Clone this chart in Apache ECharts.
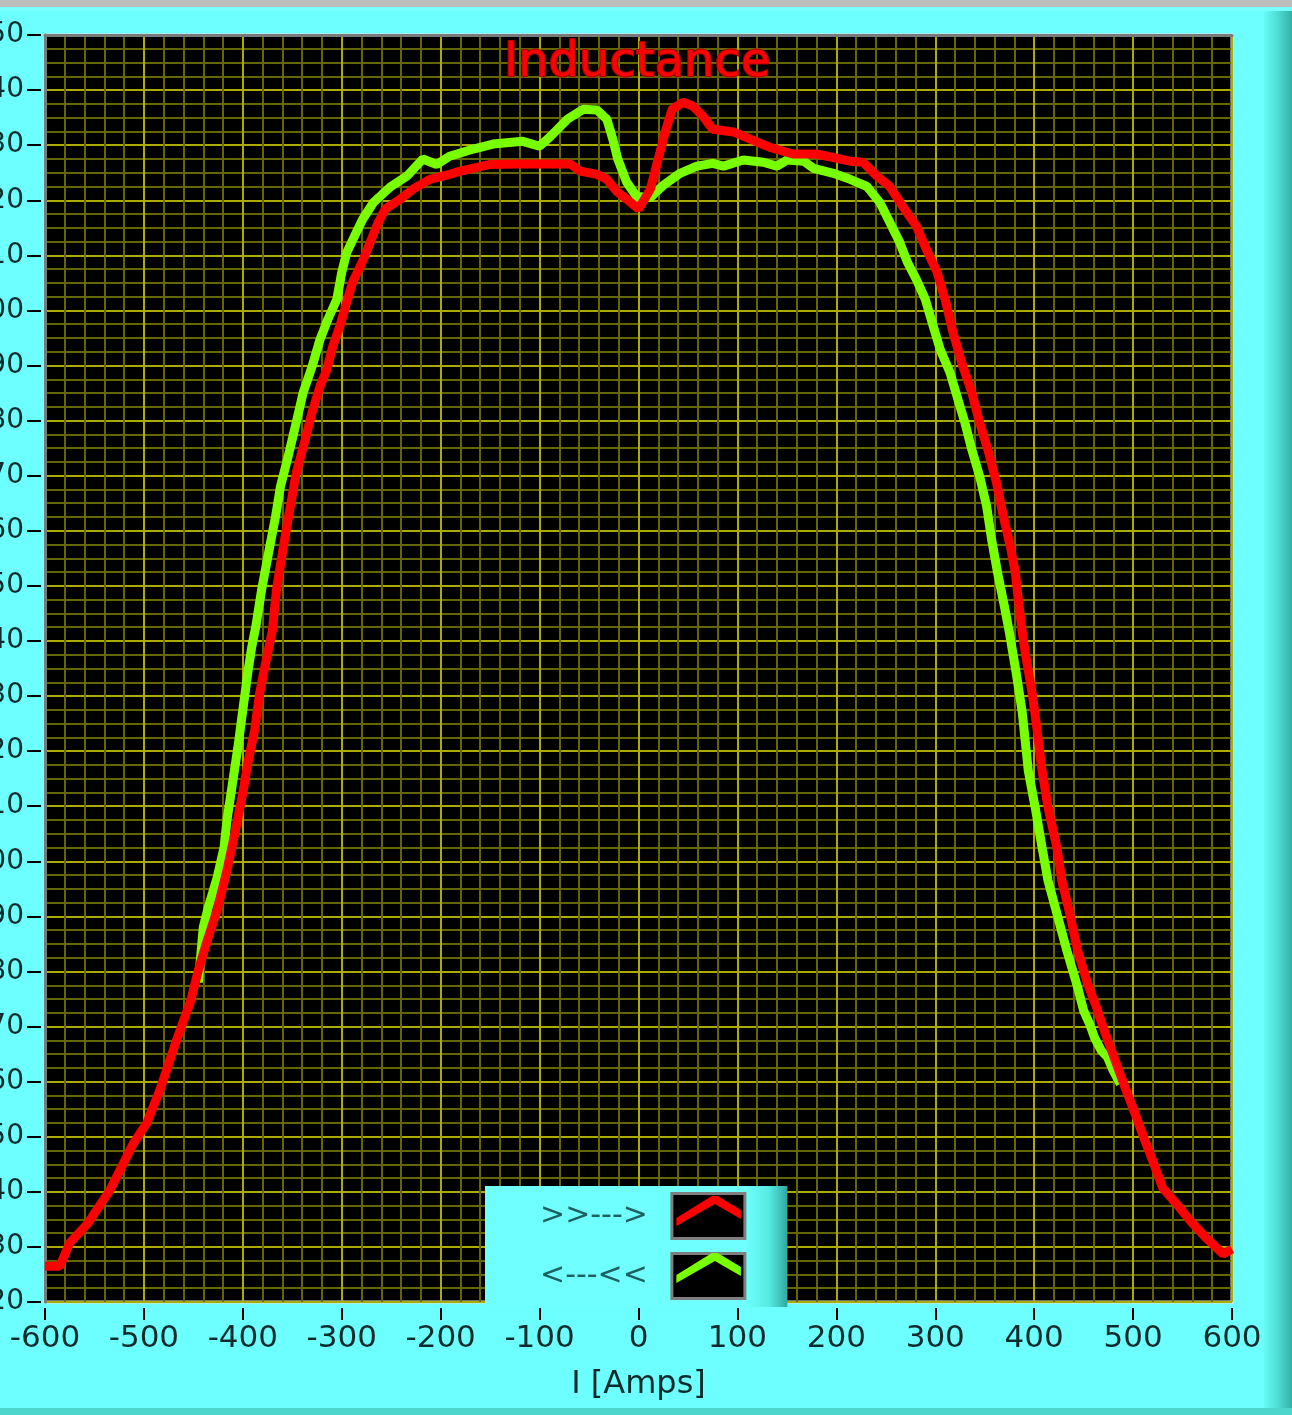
<!DOCTYPE html>
<html>
<head>
<meta charset="utf-8">
<title>Inductance</title>
<script src="https://cdn.jsdelivr.net/npm/echarts@6/dist/echarts.min.js"></script>
<style>
  html, body { margin: 0; padding: 0; background: #6dffff; }
  #main { width: 1292px; height: 1415px; }
</style>
</head>
<body>
<div id="main"></div>
<script>
// forward sweep (>>--->)
const fwdCurrent = [-600, -585, -575, -557, -534, -511, -497, -484, -467, -453, -445, -436, -426, -416, -408, -400, -395, -388, -383, -377, -370, -366, -359, -352, -346, -337, -330, -322, -315, -309, -302, -295, -289, -278, -270, -263, -256, -241, -228, -211, -191, -180, -150, -123, -97, -69, -59, -42, -32, -22, -12, 0, 12, 20, 27, 34, 45, 55, 65, 75, 96, 113, 133, 156, 180, 214, 227, 241, 254, 267, 281, 291, 302, 310, 318, 328, 337, 345, 354, 362, 369, 376, 381, 384, 388, 391, 398, 403, 408, 414, 423, 428, 436, 444, 454, 463, 472, 482, 492, 502, 512, 521, 530, 544, 558, 574, 591, 600];
const fwdInductance = [126.5, 126.5, 130.7, 134.2, 140.4, 148.7, 152.5, 158.4, 167.5, 174.5, 180.2, 185.6, 191.1, 198.4, 205.1, 212.4, 217.8, 223.8, 230.5, 236, 242, 249.3, 257.1, 264.4, 270.5, 276.5, 281.5, 286.2, 289.3, 293.5, 297.1, 301.5, 305.1, 309.3, 312.9, 316, 318.4, 320.2, 322, 323.8, 324.7, 325.3, 326.5, 326.6, 326.6, 326.6, 325.3, 324.7, 323.8, 321.6, 320.2, 318.4, 322, 327.5, 332.4, 336.5, 337.8, 337.1, 335.3, 332.9, 332.4, 331.1, 329.6, 328.4, 328.4, 327.1, 326.9, 324.4, 322.5, 318.9, 315.3, 311.1, 306.9, 302, 296, 289.8, 285.1, 279.6, 274.2, 268.7, 262.5, 257.1, 252.4, 247.5, 241.5, 237.8, 230.5, 223.8, 216.5, 209.8, 202.5, 196.5, 190.5, 183.8, 177.8, 173.5, 168.7, 163.8, 158.9, 154.2, 149.3, 145.1, 140.7, 137.8, 134.7, 131.6, 128.7, 129.6];

// reverse sweep (<---<<)
const revCurrent = [-445, -440, -435, -426, -419, -416, -410, -405, -400, -395, -391, -387, -381, -374, -367, -362, -355, -347, -339, -330, -322, -314, -305, -300, -295, -287, -279, -268, -251, -234, -218, -204, -191, -167, -147, -117, -100, -89, -72, -56, -42, -32, -26, -21, -12, -2, 12, 25, 42, 59, 75, 86, 106, 126, 140, 150, 167, 177, 197, 214, 231, 244, 254, 264, 272, 281, 290, 298, 305, 315, 323, 330, 337, 345, 352, 357, 363, 370, 375, 382, 388, 394, 401, 408, 414, 423, 433, 444, 450, 456, 461, 468, 474, 480, 487];
const revInductance = [178, 188, 191.6, 197, 202.5, 207.5, 214.7, 220.7, 227.5, 234.2, 238.9, 242.5, 249.3, 256, 262.5, 268, 272.9, 278.9, 285.1, 289.8, 294.7, 298.4, 302, 306.9, 310.5, 313.5, 316.5, 319.6, 322.4, 324.4, 327.5, 326.5, 328, 329.3, 330.2, 330.7, 329.8, 331.6, 334.7, 336.5, 336.4, 334.7, 331.1, 327.5, 323.3, 320.7, 320.5, 322.7, 324.9, 326.2, 326.7, 326.2, 327.3, 326.9, 326.2, 327.3, 327.1, 325.8, 324.9, 323.8, 322.5, 319.6, 316, 312.4, 308.7, 305.6, 302, 297.1, 292.9, 288.7, 283.8, 279.6, 274.7, 269.8, 264.4, 258.4, 252.4, 246.2, 241.5, 234, 227, 216.5, 209.8, 202.5, 196.5, 190.5, 183.8, 177.1, 172.9, 170.5, 168, 165.6, 164.5, 162, 159.6];

const seriesNames = [">>--->", "<---<<"];
const seriesColors = ["#ff0000", "#78ff00"];

const xRange = [-600, 600, 100];
const yRange = [120, 350, 10];

function pairs(xs, ys) {
  return xs.map((x, i) => [x, ys[i]]);
}

const labelFont = "DejaVu Sans";
const majorGrid = { color: "#acac00", width: 2 };
const minorGrid = { color: "#666600", width: 2 };

// chevron drawn inside the black legend boxes (corner moves keep the box size)
const chevron = "path://M0,0 Z M73,45 Z M4.5,34 L4.5,26 L40,4 L46,4 L69,18 L69,27 L43,12 Z";

const legendBase = {
  data: seriesNames,
  orient: "vertical",
  left: 485,
  top: 1186,
  align: "right",
  itemWidth: 73,
  itemHeight: 45,
  itemGap: 12,
  padding: [6, 41, 7, 55],
  selectedMode: false,
};

var chart = echarts.init(document.getElementById("main"));
var option = {
  animation: false,
  backgroundColor: "#6dffff",
  title: {
    text: "Inductance",
    left: 499,
    top: 35,
    textStyle: {
      color: "#ff0000",
      fontSize: 48,
      fontWeight: "normal",
      fontFamily: labelFont,
      textBorderColor: "#b00000",
      textBorderWidth: 2.2,
    },
  },
  grid: {
    left: 45,
    right: 60,
    top: 35,
    bottom: 113,
    containLabel: false,
    outerBoundsMode: "none",
    show: true,
    backgroundColor: "#000",
    borderColor: "#e2e2e2",
    borderWidth: 3,
  },
  legend: [
    Object.assign({}, legendBase, {
      icon: "rect",
      z: 5,
      backgroundColor: {
        type: "linear", x: 0, y: 0, x2: 1, y2: 0,
        colorStops: [
          { offset: 0, color: "#70ffff" },
          { offset: 0.86, color: "#6fffff" },
          { offset: 0.94, color: "#55eae2" },
          { offset: 1, color: "#2ea89f" },
        ],
      },
      itemStyle: { color: "#000", borderColor: "#7f7f7f", borderWidth: 3 },
      textStyle: { fontSize: 30, color: "#1e5f5f", fontFamily: labelFont, padding: [0, 19, 0, 0] },
    }),
    Object.assign({}, legendBase, {
      icon: chevron,
      z: 6,
      backgroundColor: "transparent",
      itemStyle: { borderWidth: 0 },
      textStyle: { fontSize: 30, color: "rgba(0,0,0,0)", fontFamily: labelFont, padding: [0, 19, 0, 0] },
    }),
  ],
  xAxis: [
    {
      type: "value",
      position: "bottom",
      min: xRange[0],
      max: xRange[1],
      interval: xRange[2],
      offset: 6,
      axisLine: { show: false, onZero: false },
      axisTick: { show: true, length: 12, lineStyle: { color: "#000", width: 2 } },
      axisLabel: { margin: 15, fontSize: 31, color: "#0d2b2b", fontFamily: labelFont },
      splitLine: { show: true, lineStyle: majorGrid },
      minorTick: { show: false, splitNumber: 5 },
      minorSplitLine: { show: true, lineStyle: minorGrid },
      name: "I [Amps]",
      nameLocation: "middle",
      nameGap: 61,
      nameTextStyle: { fontSize: 32, color: "#0d2b2b", fontFamily: labelFont },
    },
    {
      type: "value",
      position: "top",
      min: xRange[0],
      max: xRange[1],
      axisLine: { show: true, onZero: false, lineStyle: { color: "#7a7a7a", width: 3 } },
      axisTick: { show: false },
      axisLabel: { show: false },
      splitLine: { show: false },
    },
  ],
  yAxis: [
    {
      type: "value",
      position: "left",
      min: yRange[0],
      max: yRange[1],
      interval: yRange[2],
      offset: 4,
      axisLine: { show: false, onZero: false },
      axisTick: { show: true, length: 14, lineStyle: { color: "#000", width: 2 } },
      axisLabel: { margin: 17, fontSize: 28, color: "#0d2b2b", fontFamily: labelFont },
      splitLine: { show: true, lineStyle: majorGrid },
      minorTick: { show: false, splitNumber: 4 },
      minorSplitLine: { show: true, lineStyle: minorGrid },
    },
    {
      type: "value",
      position: "left",
      min: yRange[0],
      max: yRange[1],
      axisLine: { show: true, onZero: false, lineStyle: { color: "#7a7a7a", width: 3 } },
      axisTick: { show: false },
      axisLabel: { show: false },
      splitLine: { show: false },
    },
  ],
  series: [
    {
      name: seriesNames[0],
      type: "line",
      data: pairs(fwdCurrent, fwdInductance),
      showSymbol: false,
      symbol: "none",
      color: seriesColors[0],
      lineStyle: { width: 9, color: seriesColors[0] },
      z: 4,
    },
    {
      name: seriesNames[1],
      type: "line",
      data: pairs(revCurrent, revInductance),
      showSymbol: false,
      symbol: "none",
      color: seriesColors[1],
      lineStyle: { width: 9, color: seriesColors[1] },
      z: 3,
    },
  ],
  graphic: [
    // window frame bits round the panel
    { type: "rect", left: 0, top: 0, shape: { width: 1292, height: 7 }, style: { fill: "#bdbdbd" } },
    { type: "rect", left: 0, top: 7, shape: { width: 1292, height: 4 }, style: { fill: "#7affff" } },
    {
      type: "rect", left: 1264, top: 11,
      shape: { width: 28, height: 1404 },
      style: {
        fill: {
          type: "linear", x: 0, y: 0, x2: 1, y2: 0,
          colorStops: [
            { offset: 0, color: "#66fbf8" },
            { offset: 0.5, color: "#4ddcd2" },
            { offset: 1, color: "#35b0a6" },
          ],
        },
      },
    },
    { type: "rect", left: 0, top: 1408, shape: { width: 1292, height: 7 }, style: { fill: "#4cd6cc" } },
  ],
};

chart.setOption(option);
</script>
</body>
</html>
